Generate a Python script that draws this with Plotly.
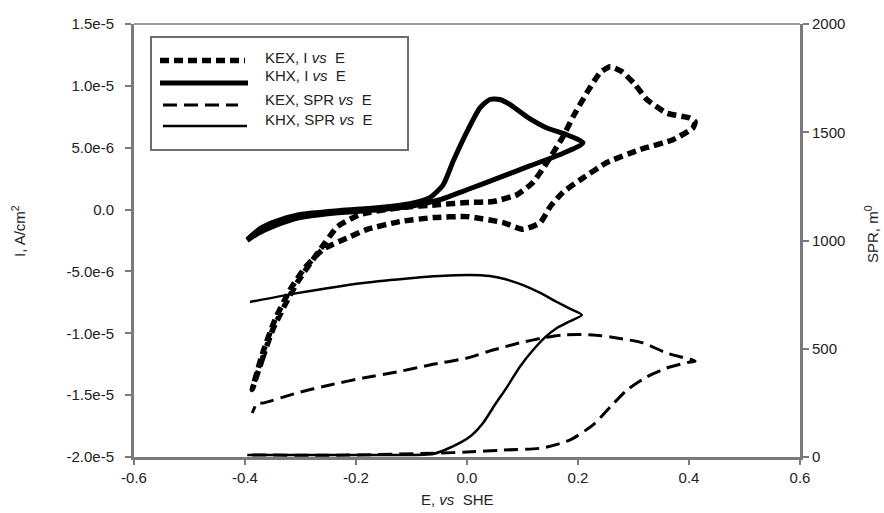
import plotly.graph_objects as go

# ---------------- data ----------------
# KEX, I vs E  (cyclic voltammogram, A/cm2)
kex_i_E = [-0.387, -0.369, -0.350, -0.328, -0.306, -0.277, -0.256, -0.234, -0.193, -0.121,
           -0.049, 0.000, 0.047, 0.090, 0.119, 0.144, 0.173, 0.191, 0.216, 0.240,
           0.258, 0.279, 0.303, 0.324, 0.360, 0.402, 0.411,
           0.407, 0.371, 0.312, 0.252, 0.204, 0.173, 0.150, 0.132, 0.101,
           0.065, 0.000, -0.061, -0.121, -0.180, -0.216, -0.259, -0.292, -0.319,
           -0.346, -0.369, -0.387]
kex_i_I = [-1.455e-5, -1.21e-5, -9.7e-6, -7.7e-6, -5.9e-6, -4.0e-6, -2.7e-6, -1.4e-6, -4.0e-7, 1.6e-7,
           4.0e-7, 5.7e-7, 6.5e-7, 1.2e-6, 2.2e-6, 3.8e-6, 5.9e-6, 7.5e-6, 9.45e-6, 1.107e-5,
           1.155e-5, 1.115e-5, 1.01e-5, 8.9e-6, 7.8e-6, 7.4e-6, 7.1e-6,
           6.6e-6, 5.65e-6, 4.85e-6, 3.8e-6, 2.4e-6, 1.4e-6, 2.4e-7, -1.05e-6, -1.6e-6,
           -1.05e-6, -5.7e-7, -6.5e-7, -9.7e-7, -1.6e-6, -2.3e-6, -3.2e-6, -4.7e-6, -6.5e-6,
           -8.9e-6, -1.17e-5, -1.455e-5]

# KHX, I vs E
khx_i_E = [-0.396, -0.373, -0.346, -0.301, -0.229, -0.157, -0.103, -0.067, -0.043, -0.025,
           0.000, 0.023, 0.041, 0.059, 0.077, 0.108, 0.144, 0.177, 0.209,
           0.168, 0.114, 0.059, 0.000, -0.049, -0.103, -0.175, -0.247, -0.301,
           -0.346, -0.377, -0.396]
khx_i_I = [-2.42e-6, -1.54e-6, -9.7e-7, -4.0e-7, -8.0e-8, 1.6e-7, 4.8e-7, 9.7e-7, 2.0e-6, 3.9e-6,
           6.3e-6, 8.2e-6, 8.9e-6, 8.9e-6, 8.5e-6, 7.5e-6, 6.6e-6, 6.1e-6, 5.4e-6,
           4.45e-6, 3.55e-6, 2.6e-6, 1.6e-6, 8.0e-7, 2.4e-7, -8.0e-8, -3.2e-7, -6.5e-7,
           -1.3e-6, -1.94e-6, -2.5e-6]

# KEX, SPR vs E (m0)
kex_spr_E = [-0.387, -0.211, -0.049, 0.000, 0.065, 0.137, 0.186, 0.227, 0.258, 0.288,
             0.324, 0.360, 0.402, 0.411,
             0.360, 0.317, 0.270, 0.227, 0.173, 0.137, 0.095, 0.047, 0.000, -0.067,
             -0.126, -0.187, -0.247, -0.306, -0.368, -0.378, -0.387]
kex_spr_V = [9, 9, 18, 23, 32, 42, 79, 148, 231, 309,
             370, 411, 439, 443,
             480, 527, 550, 564, 564, 550, 527, 494, 457, 425,
             393, 365, 333, 296, 249, 249, 203]

# KHX, SPR vs E (m0)
khx_spr_E = [-0.396, -0.301, -0.211, -0.121, -0.061, -0.036, -0.013, 0.009, 0.029, 0.050,
             0.072, 0.095, 0.119, 0.141, 0.162, 0.186, 0.207,
             0.186, 0.162, 0.132, 0.101, 0.068, 0.041, 0.005, -0.049, -0.097,
             -0.187, -0.306, -0.391]
khx_spr_V = [9, 9, 9, 9, 14, 37, 65, 102, 157, 240,
             323, 416, 494, 554, 596, 628, 656,
             684, 716, 758, 794, 822, 836, 841, 836, 827,
             804, 757, 716]

# tick labels
x_tickvals = [-0.6, -0.4, -0.2, 0.0, 0.2, 0.4, 0.6]
x_ticktext = ["-0.6", "-0.4", "-0.2", "0.0", "0.2", "0.4", "0.6"]
y_tickvals = [-2.0e-5, -1.5e-5, -1.0e-5, -5.0e-6, 0.0, 5.0e-6, 1.0e-5, 1.5e-5]
y_ticktext = ["-2.0e-5", "-1.5e-5", "-1.0e-5", "-5.0e-6", "0.0", "5.0e-6", "1.0e-5", "1.5e-5"]
y2_tickvals = [0, 500, 1000, 1500, 2000]
y2_ticktext = ["0", "500", "1000", "1500", "2000"]

legend_labels = ["KEX, I <i>vs</i>  E", "KHX, I <i>vs</i>  E",
                 "KEX, SPR <i>vs</i>  E", "KHX, SPR <i>vs</i>  E"]

# ---------------- styles ----------------
FONT = "Liberation Sans, Arial, sans-serif"
TXT = "#222222"
AX = "#7a7a7a"
styles = [
    dict(color="black", width=5.5, dash="9px,5px"),
    dict(color="black", width=5, dash="solid"),
    dict(color="black", width=3, dash="14px,7px"),
    dict(color="black", width=2.5, dash="solid"),
]

fig = go.Figure()
fig.add_trace(go.Scatter(x=kex_i_E, y=kex_i_I, mode="lines", line=dict(shape="spline", smoothing=0.5, **styles[0]),
                         name="KEX, I vs E", yaxis="y"))
fig.add_trace(go.Scatter(x=khx_i_E, y=khx_i_I, mode="lines", line=dict(shape="spline", smoothing=0.6, **styles[1]),
                         name="KHX, I vs E", yaxis="y"))
fig.add_trace(go.Scatter(x=kex_spr_E, y=kex_spr_V, mode="lines", line=dict(shape="spline", smoothing=0.6, **styles[2]),
                         name="KEX, SPR vs E", yaxis="y2"))
fig.add_trace(go.Scatter(x=khx_spr_E, y=khx_spr_V, mode="lines", line=dict(shape="spline", smoothing=0.6, **styles[3]),
                         name="KHX, SPR vs E", yaxis="y2"))

# ---------------- manual legend ----------------
W, H = 666.0, 433.0   # plot area in px
def px(xp):
    return (xp - 134) / W
def py(yp):
    return (457 - yp) / H

shapes = []
shapes.append(dict(type="rect", xref="paper", yref="paper",
                   x0=px(151), x1=px(408), y0=py(150), y1=py(37),
                   line=dict(color="#6e6e6e", width=2), fillcolor="white", layer="above"))
sample_y = [60.5, 83, 105, 126]
sample_x = [(160, 245), (160, 248), (163, 238), (163, 247)]
text_y = [57, 76, 99, 119]
annotations = []
for i in range(4):
    st = styles[i]
    shapes.append(dict(type="line", xref="paper", yref="paper",
                       x0=px(sample_x[i][0]), x1=px(sample_x[i][1]),
                       y0=py(sample_y[i]), y1=py(sample_y[i]),
                       line=dict(color=st["color"], width=st["width"], dash=st["dash"]),
                       layer="above"))
    annotations.append(dict(xref="paper", yref="paper", x=px(263), y=py(text_y[i]),
                            text=legend_labels[i], showarrow=False, xanchor="left", yanchor="middle",
                            font=dict(family=FONT, size=15, color=TXT)))

# top border
shapes.append(dict(type="line", xref="paper", yref="paper", x0=0, x1=1, y0=1, y1=1,
                   line=dict(color=AX, width=1.5), layer="above"))

# axis titles
annotations.append(dict(xref="paper", yref="paper", x=px(457), y=py(499), text="E, <i>vs</i>  SHE",
                        showarrow=False, xanchor="center", yanchor="middle",
                        font=dict(family=FONT, size=15, color=TXT)))
annotations.append(dict(xref="paper", yref="paper", x=px(18), y=py(231), text="I, A/cm<sup>2</sup>",
                        showarrow=False, xanchor="center", yanchor="middle", textangle=-90,
                        font=dict(family=FONT, size=15, color=TXT)))
annotations.append(dict(xref="paper", yref="paper", x=px(871), y=py(234), text="SPR, m<sup>0</sup>",
                        showarrow=False, xanchor="center", yanchor="middle", textangle=-90,
                        font=dict(family=FONT, size=15, color=TXT)))

fig.update_layout(
    width=884, height=513,
    margin=dict(l=134, r=84, t=24, b=56, autoexpand=False),
    paper_bgcolor="white", plot_bgcolor="white",
    showlegend=False,
    font=dict(family=FONT, size=15, color=TXT),
    shapes=shapes, annotations=annotations,
    xaxis=dict(range=[-0.6, 0.6], tickvals=x_tickvals, ticktext=x_ticktext,
               showgrid=False, zeroline=False, showline=True, linecolor=AX, linewidth=3,
               ticks="outside", ticklen=5, tickwidth=2, tickcolor=AX,
               tickfont=dict(family=FONT, size=15, color=TXT)),
    yaxis=dict(range=[-2.0e-5, 1.5e-5], tickvals=y_tickvals, ticktext=y_ticktext,
               showgrid=False, zeroline=False, showline=True, linecolor=AX, linewidth=3,
               ticks="outside", ticklen=6, tickwidth=2, tickcolor=AX, ticklabelstandoff=8,
               tickfont=dict(family=FONT, size=15, color=TXT)),
    yaxis2=dict(range=[0, 2000], tickvals=y2_tickvals, ticktext=y2_ticktext, overlaying="y", side="right",
                showgrid=False, zeroline=False, showline=True, linecolor=AX, linewidth=3,
                ticks="outside", ticklen=6, tickwidth=2, tickcolor=AX,
                tickfont=dict(family=FONT, size=15, color=TXT)),
)

fig.write_html("out.html")
